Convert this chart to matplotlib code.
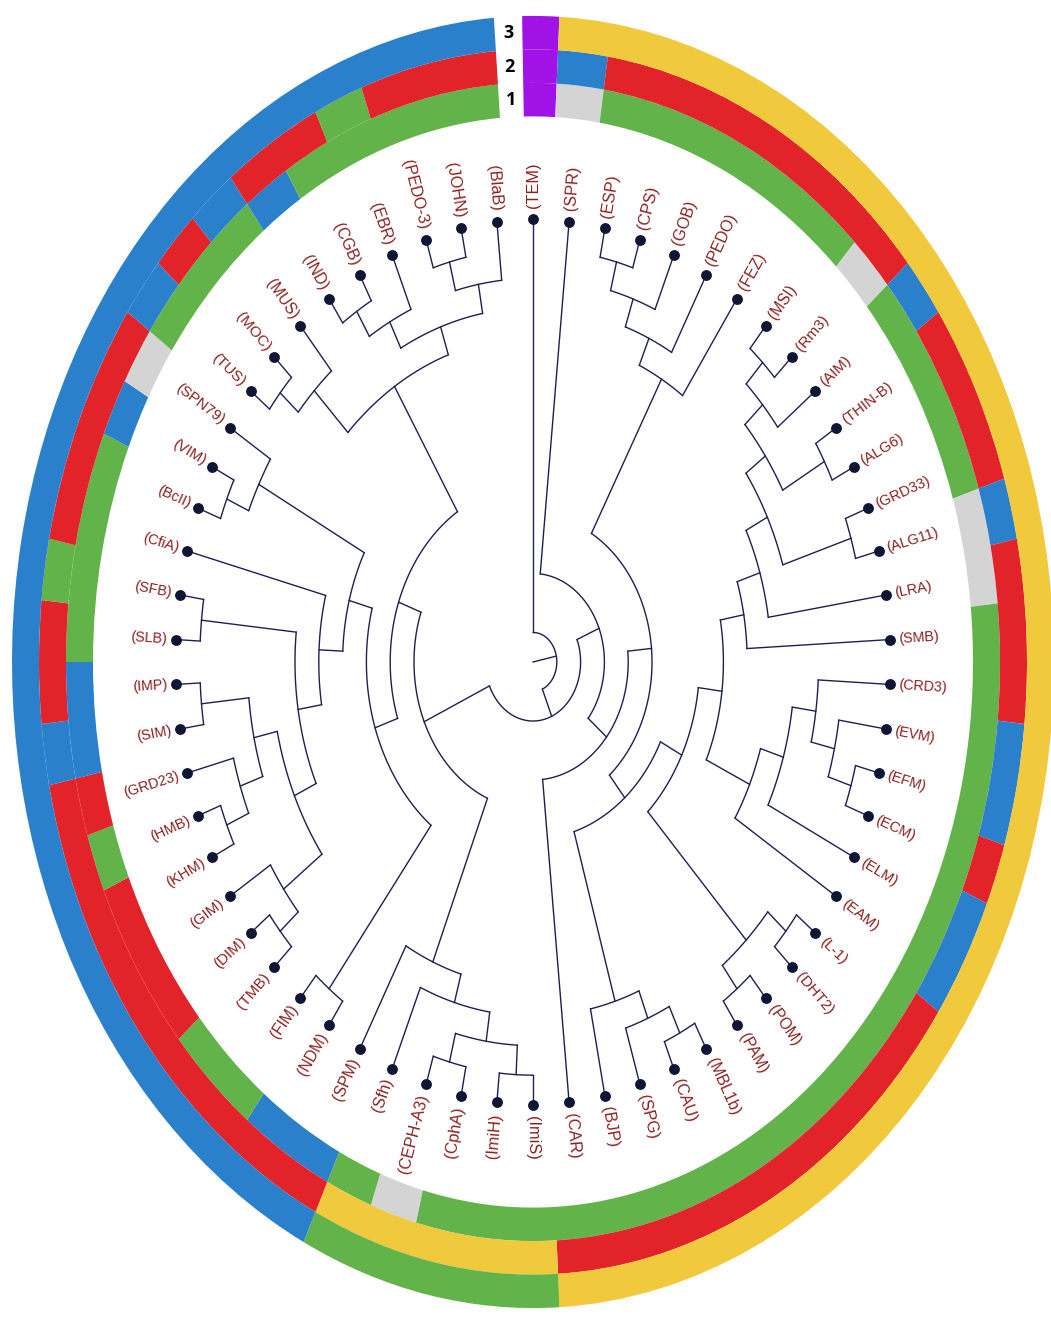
import numpy as np
import matplotlib
matplotlib.use("Agg")
import matplotlib.pyplot as plt
from matplotlib.patches import Wedge

# ---------------- data ----------------
leaves = ["TEM", "SPR", "ESP", "CPS", "GOB", "PEDO", "FEZ", "MSI", "Rm3", "AIM",
          "THIN-B", "ALG6", "GRD33", "ALG11", "LRA", "SMB", "CRD3", "EVM", "EFM",
          "ECM", "ELM", "EAM", "L-1", "DHT2", "POM", "PAM", "MBL1b", "CAU", "SPG",
          "BJP", "CAR", "ImiS", "ImiH", "CphA", "CEPH-A3", "Sfh", "SPM", "NDM",
          "FIM", "TMB", "DIM", "GIM", "KHM", "HMB", "GRD23", "SIM", "IMP", "SLB",
          "SFB", "CfiA", "BcII", "VIM", "SPN79", "TUS", "MOC", "MUS", "IND", "CGB",
          "EBR", "PEDO-3", "JOHN", "BlaB"]

# tree topology (clockwise order)
clade_fez = (((("ESP", "CPS"), "GOB"), "PEDO"), "FEZ")
clade_smb = ((((((("MSI", "Rm3"), "AIM"), ("THIN-B", "ALG6")),
                 ("GRD33", "ALG11")), "LRA"), "SMB"))
clade_eam = ((("CRD3", ("EVM", ("EFM", "ECM"))), "ELM"), "EAM")
clade_pam = (("L-1", "DHT2"), ("POM", "PAM"))
clade_bjp = ((("MBL1b", "CAU"), "SPG"), "BJP")
clade_car = ((clade_fez, (((clade_smb, clade_eam), clade_pam), clade_bjp)), "CAR")
clade_spm = ((((("ImiS", "ImiH"), ("CphA", "CEPH-A3")), "Sfh"), "SPM"))
clade_gim = ((("TMB", "DIM"), "GIM"), ((("KHM", "HMB"), "GRD23"), ("SIM", "IMP")))
clade_spn = ((((clade_gim, ("SLB", "SFB")), "CfiA"), (("BcII", "VIM"), "SPN79")))
clade_blab = ((("TUS", "MOC"), "MUS"), ((("IND", "CGB"), "EBR"), (("PEDO-3", "JOHN"), "BlaB")))
tree = ("TEM", (("SPR", clade_car), (clade_spm, ((("NDM", "FIM"), clade_spn), clade_blab))))

# ring colours per leaf (ring 1 = inner, ring 3 = outer)
ring1 = list("PSGGGGGGSGGGGSS" + "GGGGGGGGGGGGGGGGGGG" + "SGBBGGRRRGRBBGGGGBSGGGBGGGGG")
ring2 = list("PBRRRRRRRBRRRBRRRBBRBBRRRRRRRRRYYYYYRRRRRRRRRBRRGRRRRBRBRRGRRR")
ring3 = list("P" + "Y" * 30 + "G" * 5 + "B" * 26)
ring_labels = ["1", "2", "3"]

# ---------------- style ----------------
COL = {"P": "#a012e6", "Y": "#f0c93c", "G": "#62b34a", "R": "#e2232a",
       "B": "#2b80cc", "S": "#d4d4d4"}
LINE = "#1c2150"
TXT = "#8b1f1f"
SY = 1.24            # vertical stretch of the circle
R_LEAF = 357.0
RINGS = [(440, 467), (467, 494), (494, 521)]

fig = plt.figure(figsize=(10.51, 13.17), dpi=100)
ax = fig.add_axes([0, 0, 1, 1])
ax.set_xlim(-533, 518)
ax.set_ylim(-655 / SY, 662 / SY)
ax.axis("off")

n = len(leaves)
step = 360.0 / n
ang = {name: 90 - i * step for i, name in enumerate(leaves)}

# ---------------- rings ----------------
half = step / 2
for ring, (r0, r1) in zip([ring1, ring2, ring3], RINGS):
    runs = []
    for i, c in enumerate(ring):
        a = 90 - i * step
        t1, t2 = a - half, a + half
        if i == 0:
            t2 = a + 1.2
        if i == n - 1:
            t1 = a - 1.5
        if runs and runs[-1][0] == c and i != 0:
            runs[-1][1] = t1
        else:
            runs.append([c, t1, t2])
    for c, t1, t2 in runs:
        w = Wedge((0, 0), r1, t1, t2, width=r1 - r0, facecolor=COL[c],
                  edgecolor="none", antialiased=True)
        ax.add_patch(w)

for lab, (r0, r1) in zip(ring_labels, RINGS):
    rm = (r0 + r1) / 2
    a = np.radians(92.75)
    ax.text(rm * np.cos(a), rm * np.sin(a), lab, ha="center", va="center",
            fontsize=13, fontweight="bold", color="black", family="Open Sans")


# ---------------- tree ----------------
def height(node):
    if isinstance(node, str):
        return 0
    return 1 + max(height(c) for c in node)


H = height(tree)
unit = R_LEAF / (H + 1)


def pol(r, a):
    return r * np.cos(np.radians(a)), r * np.sin(np.radians(a))


def draw(node):
    if isinstance(node, str):
        return ang[node], R_LEAF
    kids = [draw(c) for c in node]
    a = (kids[0][0] + kids[-1][0]) / 2
    r = (H + 1 - height(node)) * unit
    t = np.linspace(kids[0][0], kids[-1][0], 80)
    x, y = pol(r, t)
    ax.plot(x, y, color=LINE, lw=1.0, solid_capstyle="round", zorder=3)
    for ka, kr in kids:
        x0, y0 = pol(r, ka)
        x1, y1 = pol(kr, ka)
        ax.plot([x0, x1], [y0, y1], color=LINE, lw=1.0, zorder=3)
    return a, r


ra, rr = draw(tree)
x1, y1 = pol(rr, ra)
ax.plot([0, x1], [0, y1], color=LINE, lw=1.0, zorder=3)

# leaf dots and labels
for name in leaves:
    a = ang[name]
    x, y = pol(R_LEAF, a)
    ax.plot(x, y, "o", ms=6.8, color="#0f1535", zorder=4)
    an = (a + 180) % 360 - 180
    phi = np.degrees(np.arctan2(SY * np.sin(np.radians(a)), np.cos(np.radians(a))))
    along = np.sqrt(np.cos(np.radians(a)) ** 2 + (SY * np.sin(np.radians(a))) ** 2)
    fs = 10.3 * along ** 0.6
    tx, ty = pol(R_LEAF + 9, a)
    if -90.5 <= an <= 90.5:
        rot, ha = phi, "left"
    else:
        rot, ha = phi + 180, "right"
    ax.text(tx, ty, f"({name})", rotation=rot, rotation_mode="anchor",
            ha=ha, va="center", fontsize=fs, color=TXT, family="Liberation Sans",
            zorder=5)

fig.savefig("out.png", dpi=100)
